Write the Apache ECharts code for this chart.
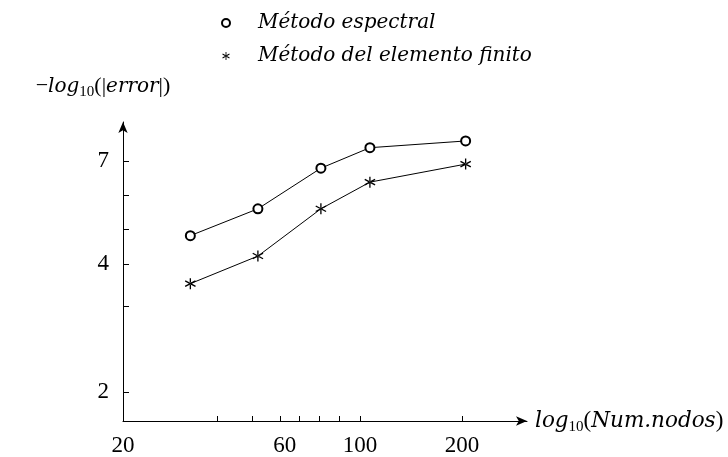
<!DOCTYPE html>
<html>
<head>
<meta charset="utf-8">
<script src="https://cdn.jsdelivr.net/npm/echarts@6/dist/echarts.min.js"></script>
<style>
  html, body { margin: 0; padding: 0; background: #fff; }
  #chart { width: 728px; height: 457px; }
</style>
</head>
<body>
<div id="chart"></div>
<script>
// numero de nodos (eje x, escala logaritmica)
var nodos = [31.6, 50, 76.7, 107, 205];
// -log10(|error|)
var espectral = [4.67, 5.40, 6.73, 7.52, 7.80];
var finito = [3.60, 4.18, 5.40, 6.24, 6.88];
// marcas de los ejes
var xEtiquetas = [20, 60, 100, 200];
var xMarcas = [38, 48, 58, 66, 76, 87, 100, 200];
var yEtiquetas = [2, 4, 7];
var yMarcas = [2, 3.18, 4, 4.83, 5.8, 7];

var serie1 = 'Método espectral';
var serie2 = 'Método del elemento finito';

// asterisco
var asterisco = 'path://M-0.55,-5L0.55,-5L0.55,5L-0.55,5Z' +
  'M4.06,2.98L4.61,2.02L-4.06,-2.98L-4.61,-2.02Z' +
  'M4.61,-2.02L4.06,-2.98L-4.61,2.02L-4.06,2.98Z';

function lg(v) { return Math.log10(v); }
function pares(xs, ys) {
  var r = [];
  for (var i = 0; i < xs.length; i++) r.push([lg(xs[i]), lg(ys[i])]);
  return r;
}

var fuente = 'DejaVu Serif';
var fuenteNum = 'Liberation Serif';
var richNombre = {
  i: { fontFamily: fuente, fontStyle: 'italic', fontSize: 20, color: '#000' },
  r: { fontFamily: fuenteNum, fontSize: 22, color: '#000' },
  s: { fontFamily: fuenteNum, fontSize: 15, color: '#000', padding: [12, 0, 0, 0] }
};
var richNombreX = {
  i: { fontFamily: fuente, fontStyle: 'italic', fontSize: 21.5, color: '#000' },
  r: { fontFamily: fuenteNum, fontSize: 23, color: '#000' },
  s: { fontFamily: fuenteNum, fontSize: 15, color: '#000', padding: [12, 0, 0, 0] }
};

var option = {
  backgroundColor: '#fff',
  animation: false,
  legend: {
    orient: 'vertical',
    left: 216,
    top: 8,
    itemWidth: 8,
    itemHeight: 8,
    itemGap: 13,
    textStyle: { fontFamily: fuente, fontStyle: 'italic', fontSize: 20, color: '#000', padding: [0, 0, 0, 23] },
    data: [
      { name: serie1, icon: 'emptyCircle', itemStyle: { borderWidth: 0.8 } },
      { name: serie2, icon: asterisco }
    ]
  },
  grid: { left: 123, right: 201, top: 122, bottom: 35 },
  xAxis: {
    type: 'value',
    min: lg(20),
    max: lg(20) + 404 / 339,
    name: '{i|log}{s|10}{r|(}{i|Num.nodos}{r|)}',
    nameLocation: 'end',
    nameGap: 8,
    nameTextStyle: { rich: richNombreX, verticalAlign: 'middle' },
    splitLine: { show: false },
    axisLine: { lineStyle: { color: '#000', width: 1 }, symbol: ['none', 'arrow'], symbolSize: [7, 11] },
    axisTick: { inside: true, length: 5, lineStyle: { color: '#000' }, customValues: xMarcas.map(lg) },
    axisLabel: {
      customValues: xEtiquetas.map(lg),
      formatter: function (v) { return String(Math.round(Math.pow(10, v))); },
      fontFamily: fuenteNum, fontSize: 23, color: '#000', margin: 13
    }
  },
  yAxis: {
    type: 'value',
    min: 0.2331,
    max: 0.9367,
    name: '{r|−}{i|log}{s|10}{r|(|}{i|error}{r||)}',
    nameLocation: 'end',
    nameGap: 22,
    nameTextStyle: { rich: richNombre, align: 'center', padding: [0, 40, 0, 0] },
    splitLine: { show: false },
    axisLine: { lineStyle: { color: '#000', width: 1 }, symbol: ['none', 'arrow'], symbolSize: [7, 11] },
    axisTick: { inside: true, length: 6, lineStyle: { color: '#000' }, customValues: yMarcas.map(lg) },
    axisLabel: {
      customValues: yEtiquetas.map(lg),
      formatter: function (v) { return String(Math.round(Math.pow(10, v))); },
      fontFamily: fuenteNum, fontSize: 23, color: '#000', margin: 14
    }
  },
  series: [
    {
      name: serie1,
      type: 'line',
      data: pares(nodos, espectral),
      symbol: 'emptyCircle',
      symbolSize: 9,
      itemStyle: { color: '#000', borderWidth: 0.7 },
      lineStyle: { color: '#000', width: 1 }
    },
    {
      name: serie2,
      type: 'line',
      data: pares(nodos, finito),
      symbol: asterisco,
      symbolSize: 11,
      itemStyle: { color: '#000' },
      lineStyle: { color: '#000', width: 1 }
    }
  ]
};

var grafico = echarts.init(document.getElementById('chart'));
grafico.setOption(option);
</script>
</body>
</html>
